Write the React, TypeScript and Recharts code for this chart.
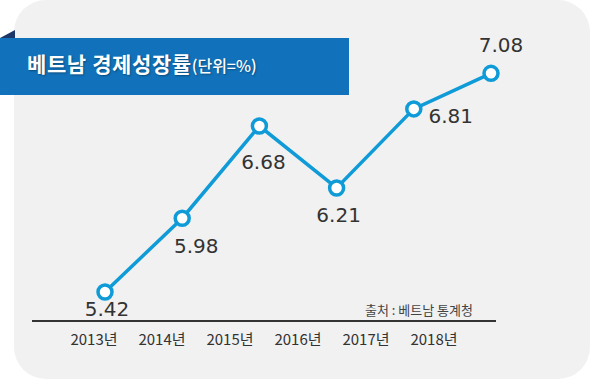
import React from "react";
import { LineChart, Line, XAxis, YAxis, LabelList } from "recharts";

const years = ["2013년", "2014년", "2015년", "2016년", "2017년", "2018년"];
const growth = [5.42, 5.98, 6.68, 6.21, 6.81, 7.08];

const data = years.map((year, i) => ({ year, growth: growth[i] }));

// label placement around each point (dx, dy from the point)
const labelShift = [
  [2, 17],
  [14, 28],
  [4, 36],
  [2, 27],
  [37, 7],
  [10, -28],
];

const BLUE = "#0f9bd7";

const ValueLabel = (props: any) => {
  const { x, y, value, index } = props;
  const [dx, dy] = labelShift[index] || [0, 0];
  return (
    <text
      x={x + dx}
      y={y + dy}
      textAnchor="middle"
      dominantBaseline="central"
      fill="#333"
      fontSize={20}
      fontFamily="'DejaVu Sans', Verdana, sans-serif"
    >
      {value.toFixed(2)}
    </text>
  );
};

const App: React.FC = () => {
  return (
    <div
      style={{
        position: "absolute",
        left: 0,
        top: 0,
        width: 600,
        height: 379,
        background: "#fff",
        overflow: "hidden",
        fontFamily: "'Noto Sans CJK KR', sans-serif",
      }}
    >
      {/* grey panel */}
      <div
        style={{
          position: "absolute",
          left: 14,
          top: 0,
          width: 576,
          height: 379,
          background: "#f1f1f1",
          borderRadius: 32,
        }}
      />
      {/* folded corner */}
      <svg
        width={20}
        height={40}
        style={{ position: "absolute", left: 0, top: 0 }}
      >
        <polygon points="0,38 15,30 15,38" fill="#1d3768" />
      </svg>
      {/* title banner */}
      <div
        style={{
          position: "absolute",
          left: 0,
          top: 38,
          width: 349,
          height: 57,
          background: "#1172bb",
        }}
      />
      <div
        style={{
          position: "absolute",
          left: 27,
          top: 49,
          height: 28,
          lineHeight: "28px",
          color: "#fff",
          whiteSpace: "nowrap",
          textShadow: "1px 1px 2px rgba(0,0,0,0.35)",
        }}
      >
        <span style={{ fontSize: 21, fontWeight: 700, letterSpacing: 0.6 }}>
          베트남 경제성장률
        </span>
        <span style={{ fontSize: 16, fontWeight: 500 }}>(단위=%)</span>
      </div>

      <div style={{ position: "absolute", left: 0, top: 0 }}>
        <LineChart
          width={600}
          height={379}
          data={data}
          margin={{ top: 18, right: 104, bottom: 28, left: 32 }}
        >
          <XAxis dataKey="year" xAxisId="pts" hide padding={{ left: 73, right: 5 }} />
          <XAxis
            dataKey="year"
            xAxisId="labels"
            height={30}
            padding={{ left: 62, right: 62 }}
            axisLine={{ stroke: "#333", strokeWidth: 2 }}
            tickLine={false}
            tick={{ fill: "#333", fontSize: 15, fontFamily: "'Noto Sans CJK KR', sans-serif" }}
            tickMargin={7}
            interval={0}
          />
          <YAxis hide domain={[5.2, 7.5]} />
          <Line
            xAxisId="pts"
            dataKey="growth"
            stroke={BLUE}
            strokeWidth={3.5}
            dot={{ r: 7, fill: "#fff", stroke: BLUE, strokeWidth: 3.5 }}
            isAnimationActive={false}
          >
            <LabelList dataKey="growth" content={<ValueLabel />} />
          </Line>
        </LineChart>
      </div>

      <div
        style={{
          position: "absolute",
          right: 127,
          top: 300,
          fontSize: 13,
          color: "#444",
          whiteSpace: "nowrap",
        }}
      >
        출처 : 베트남 통계청
      </div>
    </div>
  );
};

export default App;
